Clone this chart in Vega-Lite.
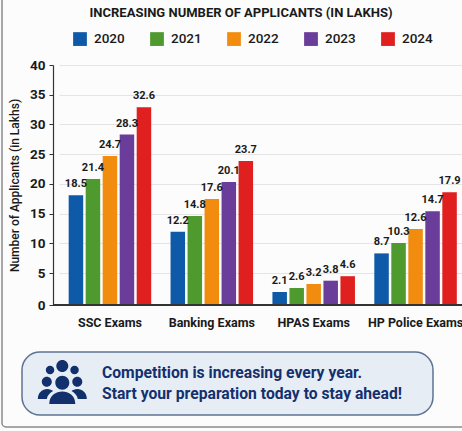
{
"$schema":"https://vega.github.io/schema/vega-lite/v6.json",
"width":409,"height":240,
"autosize":{"type":"none"},
"padding":{"left":53,"top":65,"right":0,"bottom":126},
"background":"#fcfcfc",
"config":{"view":{"stroke":null}},
"data":{"values":[
{"exam":"SSC Exams","year":"2020","bar":18.1,"applicants":18.5},
{"exam":"SSC Exams","year":"2021","bar":20.8,"applicants":21.4},
{"exam":"SSC Exams","year":"2022","bar":24.7,"applicants":24.7},
{"exam":"SSC Exams","year":"2023","bar":28.3,"applicants":28.3},
{"exam":"SSC Exams","year":"2024","bar":32.9,"applicants":32.6},
{"exam":"Banking Exams","year":"2020","bar":11.95,"applicants":12.2},
{"exam":"Banking Exams","year":"2021","bar":14.6,"applicants":14.8},
{"exam":"Banking Exams","year":"2022","bar":17.45,"applicants":17.6},
{"exam":"Banking Exams","year":"2023","bar":20.3,"applicants":20.1},
{"exam":"Banking Exams","year":"2024","bar":23.85,"applicants":23.7},
{"exam":"HPAS Exams","year":"2020","bar":2.03,"applicants":2.1},
{"exam":"HPAS Exams","year":"2021","bar":2.66,"applicants":2.6},
{"exam":"HPAS Exams","year":"2022","bar":3.3,"applicants":3.2},
{"exam":"HPAS Exams","year":"2023","bar":3.8,"applicants":3.8},
{"exam":"HPAS Exams","year":"2024","bar":4.5,"applicants":4.6},
{"exam":"HP Police Exams","year":"2020","bar":8.3,"applicants":8.7},
{"exam":"HP Police Exams","year":"2021","bar":10.05,"applicants":10.3},
{"exam":"HP Police Exams","year":"2022","bar":12.4,"applicants":12.6},
{"exam":"HP Police Exams","year":"2023","bar":15.4,"applicants":14.7},
{"exam":"HP Police Exams","year":"2024","bar":18.6,"applicants":17.9}
]},
"layer":[
{"encoding":{
  "x":{"field":"exam","type":"nominal","sort":null,
    "scale":{"domain":["SSC Exams","Banking Exams","HPAS Exams","HP Police Exams"],"range":[6,413.5],"paddingInner":0.19,"paddingOuter":0.095},
    "axis":{"title":null,"domain":false,"ticks":false,"labelAngle":0,"labelFont":"Roboto","labelFontSize":12.5,"labelFontWeight":"bold","labelColor":"#1a1a1a","labelPadding":11,"labelOverlap":false,"labelBound":false,"labelFlush":false}},
  "xOffset":{"field":"year","type":"nominal","scale":{"paddingInner":0.147}}
 },
 "layer":[
  {"mark":{"type":"bar"},
   "encoding":{
    "y":{"field":"bar","type":"quantitative",
      "scale":{"domain":[0,5,40],"range":[240,208,0],"nice":false},
      "axis":{"title":"Number of Applicants (in Lakhs)","values":[0,5,10,15,20,25,30,35,40],"labelOverlap":false,"labelBound":false,"labelFlush":false,"titleX":-32,"titleFont":"Roboto","titleFontSize":12,"titleFontWeight":500,"titleColor":"#1a1a1a","labelFont":"Roboto","labelFontSize":13.5,"labelFontWeight":"bold","labelColor":"#1a1a1a","labelPadding":4,"domainColor":"#333333","domainWidth":1.2,"tickColor":"#333333","tickSize":4,"gridColor":"#e4e4e4","grid":true}},
    "color":{"field":"year","type":"nominal",
      "scale":{"domain":["2020","2021","2022","2023","2024"],"range":["#0e5aa8","#4e9a2e","#f28c0f","#6a3d9a","#e01f1f"]},
      "legend":{"title":null,"orient":"none","legendX":20,"legendY":-33,"direction":"horizontal","columns":5,"symbolType":"square","symbolSize":190,"symbolStrokeWidth":0,"labelFont":"Roboto","labelFontSize":13.5,"labelFontWeight":500,"labelColor":"#1a1a1a","labelOffset":7,"columnPadding":25}}
   }},
  {"mark":{"type":"rule","color":"#333333","strokeWidth":1.5},"encoding":{"x":null,"xOffset":null,"y":{"datum":0,"type":"quantitative",
      "scale":{"domain":[0,5,40],"range":[240,208,0],"nice":false},
      "axis":{"title":"Number of Applicants (in Lakhs)","values":[0,5,10,15,20,25,30,35,40],"labelOverlap":false,"labelBound":false,"labelFlush":false,"titleX":-32,"titleFont":"Roboto","titleFontSize":12,"titleFontWeight":500,"titleColor":"#1a1a1a","labelFont":"Roboto","labelFontSize":13.5,"labelFontWeight":"bold","labelColor":"#1a1a1a","labelPadding":4,"domainColor":"#333333","domainWidth":1.2,"tickColor":"#333333","tickSize":4,"gridColor":"#e4e4e4","grid":true}}}},
  {"mark":{"type":"text","align":"center","baseline":"middle","dy":-11,"font":"Roboto","fontSize":11,"fontWeight":"bold","color":"#1a1a1a"},
   "encoding":{
    "y":{"field":"bar","type":"quantitative",
      "scale":{"domain":[0,5,40],"range":[240,208,0],"nice":false},
      "axis":{"title":"Number of Applicants (in Lakhs)","values":[0,5,10,15,20,25,30,35,40],"labelOverlap":false,"labelBound":false,"labelFlush":false,"titleX":-32,"titleFont":"Roboto","titleFontSize":12,"titleFontWeight":500,"titleColor":"#1a1a1a","labelFont":"Roboto","labelFontSize":13.5,"labelFontWeight":"bold","labelColor":"#1a1a1a","labelPadding":4,"domainColor":"#333333","domainWidth":1.2,"tickColor":"#333333","tickSize":4,"gridColor":"#e4e4e4","grid":true}},
    "text":{"field":"applicants","type":"quantitative","format":".1f"}
   }}
 ]},
{"data":{"values":[{"heading":"INCREASING NUMBER OF APPLICANTS (IN LAKHS)","message":"Competition is increasing every year.\nStart your preparation today to stay ahead!"}]},
 "layer":[
  {"mark":{"type":"rect","fill":"none","stroke":"#8a8a8a","strokeWidth":1.5,"cornerRadius":4},
   "encoding":{
    "x":{"datum":2,"type":"quantitative","scale":{"domain":[0,462],"range":[-53,409]},"axis":null},
    "x2":{"datum":480},
    "y":{"datum":-6,"type":"quantitative","scale":{"domain":[0,431],"range":[-65,366]},"axis":null},
    "y2":{"datum":427}}},
  {"mark":{"type":"text","align":"center","baseline":"middle","font":"Roboto","fontSize":13,"fontWeight":"bold","color":"#1a1a1a"},
   "encoding":{
    "x":{"datum":241,"type":"quantitative","scale":{"domain":[0,462],"range":[-53,409]},"axis":null},
    "y":{"datum":12.5,"type":"quantitative","scale":{"domain":[0,431],"range":[-65,366]},"axis":null},
    "text":{"field":"heading"}}},
  {"mark":{"type":"rect","fill":"#e7edf5","stroke":"#5d7392","strokeWidth":1.5,"cornerRadius":18},
   "encoding":{
    "x":{"datum":22,"type":"quantitative","scale":{"domain":[0,462],"range":[-53,409]},"axis":null},
    "x2":{"datum":433},
    "y":{"datum":352,"type":"quantitative","scale":{"domain":[0,431],"range":[-65,366]},"axis":null},
    "y2":{"datum":415}}},
  {"mark":{"type":"point","filled":true,"fill":"#12306b","opacity":1,"strokeWidth":0,"size":2500,
     "shape":"M-0.24 -0.72 a0.24 0.24 0 1 0 0.48 0 a0.24 0.24 0 1 0 -0.48 0 Z M-0.66 -0.56 a0.17 0.17 0 1 0 0.34 0 a0.17 0.17 0 1 0 -0.34 0 Z M0.32 -0.56 a0.17 0.17 0 1 0 0.34 0 a0.17 0.17 0 1 0 -0.34 0 Z M-0.82 -0.09 a0.2 0.2 0 1 0 0.4 0 a0.2 0.2 0 1 0 -0.4 0 Z M0.4 -0.09 a0.2 0.2 0 1 0 0.4 0 a0.2 0.2 0 1 0 -0.4 0 Z M-0.28 -0.05 a0.28 0.28 0 1 0 0.56 0 a0.28 0.28 0 1 0 -0.56 0 Z M-0.52 0.8 C-0.52 0.45 -0.25 0.3 0 0.3 C0.25 0.3 0.52 0.45 0.52 0.8 Z M-0.98 0.6 C-0.98 0.35 -0.8 0.2 -0.6 0.2 C-0.5 0.2 -0.42 0.24 -0.37 0.28 C-0.5 0.36 -0.6 0.46 -0.62 0.6 Z M0.98 0.6 C0.98 0.35 0.8 0.2 0.6 0.2 C0.5 0.2 0.42 0.24 0.37 0.28 C0.5 0.36 0.6 0.46 0.62 0.6 Z"},
   "encoding":{
    "x":{"datum":62.3,"type":"quantitative","scale":{"domain":[0,462],"range":[-53,409]},"axis":null},
    "y":{"datum":384,"type":"quantitative","scale":{"domain":[0,431],"range":[-65,366]},"axis":null}}},
  {"mark":{"type":"text","align":"left","baseline":"middle","lineBreak":"\n","lineHeight":21,"font":"Roboto","fontSize":15.7,"fontWeight":"bold","color":"#14306e"},
   "encoding":{
    "x":{"datum":102,"type":"quantitative","scale":{"domain":[0,462],"range":[-53,409]},"axis":null},
    "y":{"datum":373,"type":"quantitative","scale":{"domain":[0,431],"range":[-65,366]},"axis":null},
    "text":{"field":"message"}}}
 ]}
],
"resolve":{"scale":{"x":"independent","y":"independent"},"axis":{"x":"independent","y":"independent"}}
}
